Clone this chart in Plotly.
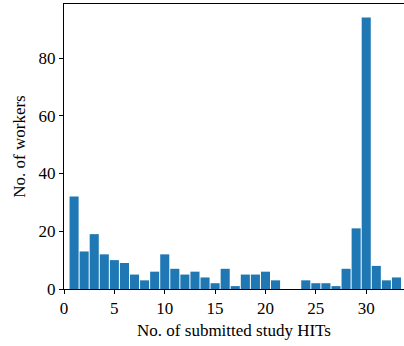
import plotly.graph_objects as go

hits = list(range(1, 34))
workers = [32, 13, 19, 12, 10, 9, 5, 3, 6, 12, 7, 5, 6, 4, 2, 7, 1,
           5, 5, 6, 3, 0, 0, 3, 2, 2, 1, 7, 21, 94, 8, 3, 4]
x_ticks = [0, 5, 10, 15, 20, 25, 30]
y_ticks = [0, 20, 40, 60, 80]

font = dict(family="Liberation Serif, DejaVu Serif, serif", size=17, color="black")

fig = go.Figure(go.Bar(x=hits, y=workers, marker=dict(color="#1f77b4", line=dict(width=0)),
                       width=0.9))
fig.update_layout(
    width=404, height=346,
    margin=dict(l=64, r=0, t=4, b=57),
    plot_bgcolor="white", paper_bgcolor="white",
    font=font, showlegend=False,
)
fig.update_xaxes(
    range=[0, 33.75], tickvals=x_ticks, ticks="outside", ticklen=4, tickwidth=1,
    tickcolor="black", showline=True, linecolor="black", linewidth=1, mirror=True,
    showgrid=False, zeroline=False,
    title=dict(text="No. of submitted study HITs", font=font, standoff=6),
)
fig.update_yaxes(
    range=[0, 98.7], tickvals=y_ticks, ticks="outside", ticklen=4, tickwidth=1,
    tickcolor="black", showline=True, linecolor="black", linewidth=1,
    showgrid=False, zeroline=False,
    title=dict(text="No. of workers", font=font, standoff=8),
)
fig.write_html("out.html")
